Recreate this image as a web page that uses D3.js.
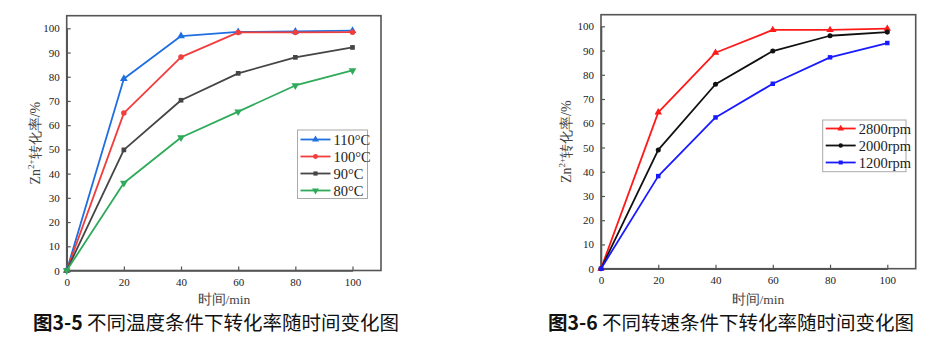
<!DOCTYPE html>
<html><head><meta charset="utf-8">
<script src="https://cdn.jsdelivr.net/npm/d3@7"></script>
<style>
html,body{margin:0;padding:0;background:#fff;}
svg{display:block;}
</style></head>
<body>
<svg id="c" width="932" height="340"></svg>
<script>
// ---- data ----
const times = [0, 20, 40, 60, 80, 100];
const xTicks = [0, 20, 40, 60, 80, 100];
const yTicks = [0, 10, 20, 30, 40, 50, 60, 70, 80, 90, 100];

const tempNames = ["110°C", "100°C", "90°C", "80°C"];
const temp110 = [0, 79.2, 96.8, 98.5, 98.7, 99.0];
const temp100 = [0, 65.0, 88.1, 98.3, 98.3, 98.4];
const temp90  = [0, 49.8, 70.3, 81.4, 88.0, 92.1];
const temp80  = [0, 36.1, 54.9, 65.6, 76.4, 82.6];

const speedNames = ["2800rpm", "2000rpm", "1200rpm"];
const speed2800 = [0, 64.5, 89.1, 98.5, 98.5, 99.0];
const speed2000 = [0, 49.0, 76.1, 89.8, 96.1, 97.6];
const speed1200 = [0, 38.2, 62.4, 76.3, 87.2, 93.1];

const xLabel = "时间/min";
const captionLeftBold = "图3-5";
const captionLeftText = " 不同温度条件下转化率随时间变化图";
const captionRightBold = "图3-6";
const captionRightText = " 不同转速条件下转化率随时间变化图";

// ---- drawing ----
const svg = d3.select("#c");
const serif = '"Liberation Serif","Times New Roman",serif';

function symType(s) {
  return s.sym.startsWith("tri") ? d3.symbolTriangle : (s.sym === "square" ? d3.symbolSquare : d3.symbolCircle);
}

function drawPanel(cfg) {
  const g = svg.append("g");
  const x = d3.scaleLinear().domain([0, 100]).range([cfg.x0, cfg.x100]);
  const y = d3.scaleLinear().domain([0, 100]).range([cfg.y0, cfg.y100]);

  // frame
  g.append("rect")
    .attr("x", cfg.left).attr("y", cfg.top)
    .attr("width", cfg.right - cfg.left).attr("height", cfg.bottom - cfg.top)
    .attr("fill", "none").attr("stroke", "#555").attr("stroke-width", 1.6);

  const xa = g.append("g").attr("transform", `translate(0,${cfg.bottom})`)
    .call(d3.axisBottom(x).tickValues(xTicks).tickSizeInner(-4).tickSizeOuter(0).tickPadding(8));
  const ya = g.append("g").attr("transform", `translate(${cfg.left},0)`)
    .call(d3.axisLeft(y).tickValues(yTicks).tickSizeInner(-4).tickSizeOuter(0).tickPadding(7));
  [xa, ya].forEach(a => {
    a.attr("font-family", serif).attr("font-size", 11);
    a.select(".domain").attr("stroke", "#555").attr("stroke-width", 1.6);
    a.selectAll(".tick line").attr("stroke", "#555").attr("stroke-width", 1.2);
    a.selectAll(".tick text").attr("fill", "#222")
      .attr("font-family", serif).attr("font-size", 11);
  });

  // axis titles
  g.append("text").attr("x", cfg.xlx).attr("y", 304)
    .attr("text-anchor", "middle").attr("font-family", serif).attr("font-size", 13.5)
    .attr("fill", "#444").text(xLabel);
  const yl = g.append("text")
    .attr("transform", `translate(${cfg.ylx},${(cfg.top + cfg.bottom) / 2}) rotate(-90)`)
    .attr("text-anchor", "middle").attr("font-family", serif).attr("font-size", 14)
    .attr("fill", "#444");
  yl.append("tspan").text("Zn");
  yl.append("tspan").attr("dy", -6).attr("font-size", 9).text("2+");
  yl.append("tspan").attr("dy", 6).text("转化率/%");

  // lines
  const line = d3.line().x((d, i) => x(times[i])).y(d => y(d));
  cfg.series.forEach(s => {
    g.append("path").datum(s.values).attr("d", line)
      .attr("fill", "none").attr("stroke", s.color).attr("stroke-width", 1.8)
      .attr("stroke-linejoin", "round");
    g.selectAll(null).data(s.values).enter().append("path")
      .attr("transform", (d, i) => `translate(${x(times[i])},${y(d)})${s.sym === "tri-down" ? " rotate(180)" : ""}`)
      .attr("d", d3.symbol().type(symType(s)).size(s.size))
      .attr("fill", s.color);
  });

  // legend
  const L = cfg.legend;
  g.append("rect").attr("x", L.x).attr("y", L.y).attr("width", L.w).attr("height", L.h)
    .attr("fill", "#fff").attr("stroke", "#aaa").attr("stroke-width", 1);
  cfg.series.forEach((s, i) => {
    const cy = L.y + L.pad + i * L.step;
    g.append("line").attr("x1", L.x + 3).attr("x2", L.x + 3 + L.lineW)
      .attr("y1", cy).attr("y2", cy).attr("stroke", s.color).attr("stroke-width", 1.8);
    g.append("path")
      .attr("transform", `translate(${L.x + 3 + L.lineW / 2},${cy})${s.sym === "tri-down" ? " rotate(180)" : ""}`)
      .attr("d", d3.symbol().type(symType(s)).size(s.size * 0.8))
      .attr("fill", s.color);
    g.append("text").attr("x", L.x + 6 + L.lineW).attr("y", cy + 5)
      .attr("font-family", serif).attr("font-size", 14.5).attr("fill", "#222").text(s.name);
  });

  // caption
  const cap = svg.append("text").attr("x", cfg.capX).attr("y", 330)
    .attr("font-family", '"Noto Sans CJK SC","Noto Sans",sans-serif').attr("font-size", 19.5).attr("fill", "#111");
  cap.append("tspan").attr("font-weight", "bold").text(cfg.capBold);
  cap.append("tspan").attr("font-weight", "normal").text(cfg.capText);
}

drawPanel({
  left: 66.7, right: 381, top: 15.7, bottom: 270.5,
  x0: 66.7, x100: 352.5, y0: 270.5, y100: 28.3,
  ylx: 40, xlx: 224,
  series: [
    { name: tempNames[0], values: temp110, color: "#1f6fe0", sym: "tri", size: 26 },
    { name: tempNames[1], values: temp100, color: "#f03e3e", sym: "circle", size: 24 },
    { name: tempNames[2], values: temp90,  color: "#454545", sym: "square", size: 22 },
    { name: tempNames[3], values: temp80,  color: "#2eaa5a", sym: "tri-down", size: 26 }
  ],
  legend: { x: 297.5, y: 130, w: 70, h: 68.5, pad: 9.5, step: 17, lineW: 30 },
  capX: 33, capBold: captionLeftBold, capText: captionLeftText
});

drawPanel({
  left: 601, right: 915.7, top: 14.7, bottom: 268.7,
  x0: 601, x100: 887.3, y0: 268.7, y100: 26.3,
  ylx: 571, xlx: 758,
  series: [
    { name: speedNames[0], values: speed2800, color: "#ff1a1a", sym: "tri", size: 24 },
    { name: speedNames[1], values: speed2000, color: "#111111", sym: "circle", size: 20 },
    { name: speedNames[2], values: speed1200, color: "#1a1aff", sym: "square", size: 20 }
  ],
  legend: { x: 822.7, y: 120, w: 83.3, h: 51.7, pad: 8.5, step: 17, lineW: 30 },
  capX: 548, capBold: captionRightBold, capText: captionRightText
});
</script>
</body></html>
